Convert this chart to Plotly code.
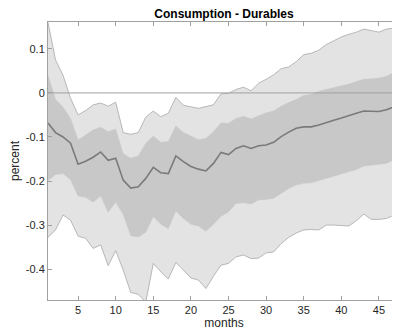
import plotly.graph_objects as go

months = list(range(1, 49))

median = [-0.068, -0.090, -0.100, -0.114, -0.162, -0.155, -0.146, -0.134, -0.153, -0.148,
          -0.198, -0.216, -0.213, -0.194, -0.169, -0.181, -0.183, -0.143, -0.156, -0.167,
          -0.173, -0.177, -0.160, -0.135, -0.140, -0.126, -0.120, -0.126, -0.120, -0.118,
          -0.112, -0.099, -0.089, -0.080, -0.077, -0.077, -0.073, -0.067, -0.062, -0.057,
          -0.051, -0.046, -0.041, -0.042, -0.042, -0.038, -0.031, -0.025]

upper68 = [0.040, -0.015, -0.032, -0.058, -0.107, -0.096, -0.084, -0.078, -0.088, -0.082,
           -0.138, -0.148, -0.143, -0.114, -0.098, -0.112, -0.110, -0.075, -0.090, -0.098,
           -0.106, -0.103, -0.088, -0.068, -0.069, -0.058, -0.053, -0.059, -0.052, -0.045,
           -0.041, -0.030, -0.022, -0.015, -0.006, -0.003, 0.004, 0.008, 0.011, 0.015,
           0.020, 0.026, 0.031, 0.032, 0.034, 0.038, 0.046, 0.055]

lower68 = [-0.199, -0.185, -0.183, -0.197, -0.234, -0.237, -0.248, -0.234, -0.271, -0.248,
           -0.276, -0.324, -0.327, -0.316, -0.281, -0.298, -0.308, -0.268, -0.285, -0.298,
           -0.302, -0.314, -0.298, -0.280, -0.270, -0.251, -0.249, -0.252, -0.243, -0.242,
           -0.239, -0.228, -0.217, -0.209, -0.205, -0.204, -0.199, -0.195, -0.190, -0.185,
           -0.180, -0.174, -0.166, -0.164, -0.161, -0.160, -0.152, -0.143]

upper90 = [0.160, 0.075, 0.040, -0.012, -0.050, -0.040, -0.027, -0.023, -0.030, -0.021,
           -0.090, -0.094, -0.090, -0.055, -0.041, -0.054, -0.046, -0.010, -0.028, -0.031,
           -0.035, -0.031, -0.027, -0.002, -0.001, 0.008, 0.013, 0.005, 0.022, 0.031,
           0.041, 0.055, 0.059, 0.071, 0.087, 0.090, 0.097, 0.110, 0.119, 0.127,
           0.133, 0.138, 0.145, 0.141, 0.138, 0.145, 0.147, 0.154]

lower90 = [-0.328, -0.311, -0.277, -0.289, -0.325, -0.330, -0.353, -0.345, -0.392, -0.358,
           -0.402, -0.453, -0.457, -0.475, -0.387, -0.406, -0.422, -0.385, -0.402, -0.420,
           -0.425, -0.444, -0.416, -0.391, -0.387, -0.372, -0.368, -0.376, -0.375, -0.363,
           -0.361, -0.342, -0.328, -0.318, -0.311, -0.310, -0.311, -0.300, -0.300, -0.301,
           -0.302, -0.290, -0.275, -0.287, -0.287, -0.285, -0.277, -0.270]

x_ticks = [5, 10, 15, 20, 25, 30, 35, 40, 45]
y_ticks = [-0.4, -0.3, -0.2, -0.1, 0, 0.1]
y_ticktext = ["-0.4", "-0.3", "-0.2", "-0.1", "0", "0.1"]

outer_fill = "#e3e3e3"
inner_fill = "#c8c8c8"
edge = "#a8a8a8"

fig = go.Figure()
fig.add_trace(go.Scatter(x=months, y=lower90, mode="lines",
                         line=dict(color=edge, width=0.8), hoverinfo="skip"))
fig.add_trace(go.Scatter(x=months, y=upper90, mode="lines", fill="tonexty",
                         fillcolor=outer_fill, line=dict(color=edge, width=0.8), hoverinfo="skip"))
fig.add_trace(go.Scatter(x=months, y=lower68, mode="lines",
                         line=dict(color=inner_fill, width=0.5), hoverinfo="skip"))
fig.add_trace(go.Scatter(x=months, y=upper68, mode="lines", fill="tonexty",
                         fillcolor=inner_fill, line=dict(color=inner_fill, width=0.5), hoverinfo="skip"))
fig.add_trace(go.Scatter(x=[1, 48], y=[0, 0], mode="lines",
                         line=dict(color="#a0a0a0", width=1), hoverinfo="skip"))
fig.add_trace(go.Scatter(x=months, y=median, mode="lines",
                         line=dict(color="#7a7a7a", width=1.6), hoverinfo="skip"))

font_family = "Liberation Sans, Arial, Helvetica, sans-serif"

fig.update_layout(
    width=392, height=323,
    margin=dict(l=40, r=0, t=14, b=31),
    plot_bgcolor="white", paper_bgcolor="white",
    showlegend=False,
    font=dict(family=font_family, size=11, color="#262626"),
    title=dict(text="<b>Consumption - Durables</b>", x=0.551, xanchor="center",
               xref="container", yref="container",
               y=0.994, yanchor="top", pad=dict(t=0, b=0),
               font=dict(size=12, color="#000000")),
)
fig.update_xaxes(
    range=[1, 47.8], tickvals=x_ticks, ticks="inside", ticklen=4, tickcolor="#a0a0a0",
    showline=True, linecolor="#a0a0a0", linewidth=1, mirror="ticks", showgrid=False,
    zeroline=False,
    title=dict(text="months", standoff=2, font=dict(size=12, color="#262626")),
)
fig.update_yaxes(
    range=[-0.47, 0.161], tickvals=y_ticks, ticktext=y_ticktext, ticks="inside",
    ticklen=4, tickcolor="#a0a0a0", showline=True, linecolor="#a0a0a0", linewidth=1,
    mirror="ticks", showgrid=False, zeroline=False,
    title=dict(text="percent", standoff=4, font=dict(size=12, color="#262626")),
)

fig.write_html("out.html")
